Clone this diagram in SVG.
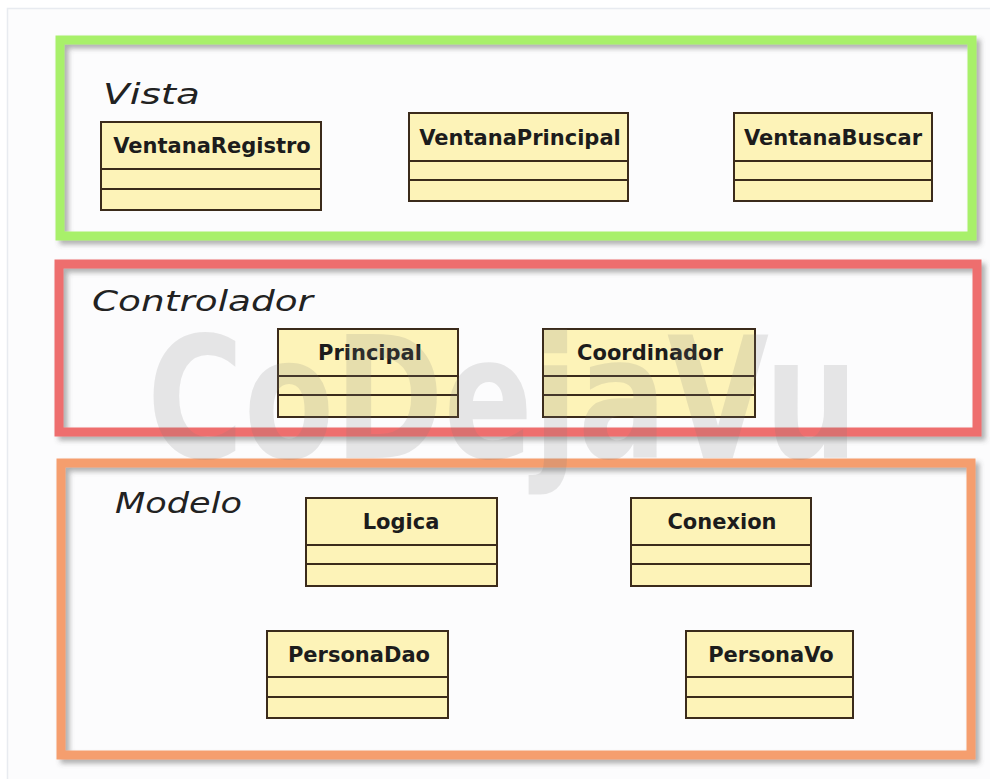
<svg xmlns="http://www.w3.org/2000/svg" width="990" height="779" viewBox="0 0 990 779">
<defs>
<filter id="sh" x="-5%" y="-5%" width="110%" height="115%">
<feDropShadow dx="4" dy="4" stdDeviation="2.5" flood-color="#555" flood-opacity="0.45"/>
</filter>
</defs>
<style>
.frame{fill:none;stroke-width:9;filter:url(#sh)}
.cls rect,.cls line{fill:#fdf3b8;stroke:#3b2b1b;stroke-width:2}
.cls text{font-family:"DejaVu Sans",Verdana,sans-serif;font-weight:bold;font-size:21px;fill:#1c1c1c;text-anchor:middle}
.lbl{font-family:"DejaVu Sans",sans-serif;font-style:italic;font-size:28px;fill:#222}
.wm{font-family:"DejaVu Sans",sans-serif;font-weight:bold;font-size:170px;fill:#7a7a7a;opacity:0.17}
</style>
<rect x="7.5" y="8.5" width="990" height="780" fill="#fcfcfd" stroke="#e8ebf0" stroke-width="1.5"/>

<g id="vista">
<rect class="frame" x="60" y="40" width="912" height="196" stroke="#a8f06a"/>
<text class="lbl" x="103" y="104" textLength="97" lengthAdjust="spacingAndGlyphs">Vista</text>
</g>
<g id="controlador">
<rect class="frame" x="59" y="264" width="918" height="168" stroke="#ee6e6e"/>
<text class="lbl" x="92" y="311" textLength="221" lengthAdjust="spacingAndGlyphs">Controlador</text>
</g>
<g id="modelo">
<rect class="frame" x="61" y="463" width="910" height="292" stroke="#f59e6e"/>
<text class="lbl" x="115" y="513" textLength="127" lengthAdjust="spacingAndGlyphs">Modelo</text>
</g>

<g id="connectors"/>

<g id="VentanaRegistro" class="cls">
<rect x="101" y="122" width="220" height="88"/>
<line x1="101" y1="169" x2="321" y2="169"/><line x1="101" y1="189" x2="321" y2="189"/>
<text x="212" y="153">VentanaRegistro</text>
</g>
<g id="VentanaPrincipal" class="cls">
<rect x="409" y="113" width="219" height="88"/>
<line x1="409" y1="161" x2="628" y2="161"/><line x1="409" y1="180" x2="628" y2="180"/>
<text x="520" y="145">VentanaPrincipal</text>
</g>
<g id="VentanaBuscar" class="cls">
<rect x="734" y="113" width="198" height="88"/>
<line x1="734" y1="161" x2="932" y2="161"/><line x1="734" y1="180" x2="932" y2="180"/>
<text x="833" y="145">VentanaBuscar</text>
</g>
<g id="Principal" class="cls">
<rect x="278" y="329" width="180" height="88"/>
<line x1="278" y1="376" x2="458" y2="376"/><line x1="278" y1="395" x2="458" y2="395"/>
<text x="370" y="360">Principal</text>
</g>
<g id="Coordinador" class="cls">
<rect x="543" y="329" width="212" height="88"/>
<line x1="543" y1="376" x2="755" y2="376"/><line x1="543" y1="395" x2="755" y2="395"/>
<text x="650" y="360">Coordinador</text>
</g>
<g id="Logica" class="cls">
<rect x="306" y="498" width="191" height="88"/>
<line x1="306" y1="545" x2="497" y2="545"/><line x1="306" y1="564" x2="497" y2="564"/>
<text x="401" y="529">Logica</text>
</g>
<g id="Conexion" class="cls">
<rect x="631" y="498" width="180" height="88"/>
<line x1="631" y1="545" x2="811" y2="545"/><line x1="631" y1="564" x2="811" y2="564"/>
<text x="722" y="529">Conexion</text>
</g>
<g id="PersonaDao" class="cls">
<rect x="267" y="631" width="181" height="87"/>
<line x1="267" y1="677" x2="448" y2="677"/><line x1="267" y1="697" x2="448" y2="697"/>
<text x="359" y="662">PersonaDao</text>
</g>
<g id="PersonaVo" class="cls">
<rect x="686" y="631" width="167" height="87"/>
<line x1="686" y1="677" x2="853" y2="677"/><line x1="686" y1="697" x2="853" y2="697"/>
<text x="771" y="662">PersonaVo</text>
</g>

<text class="wm" x="147" y="458" textLength="711" lengthAdjust="spacingAndGlyphs">CoDejaVu</text>
</svg>
